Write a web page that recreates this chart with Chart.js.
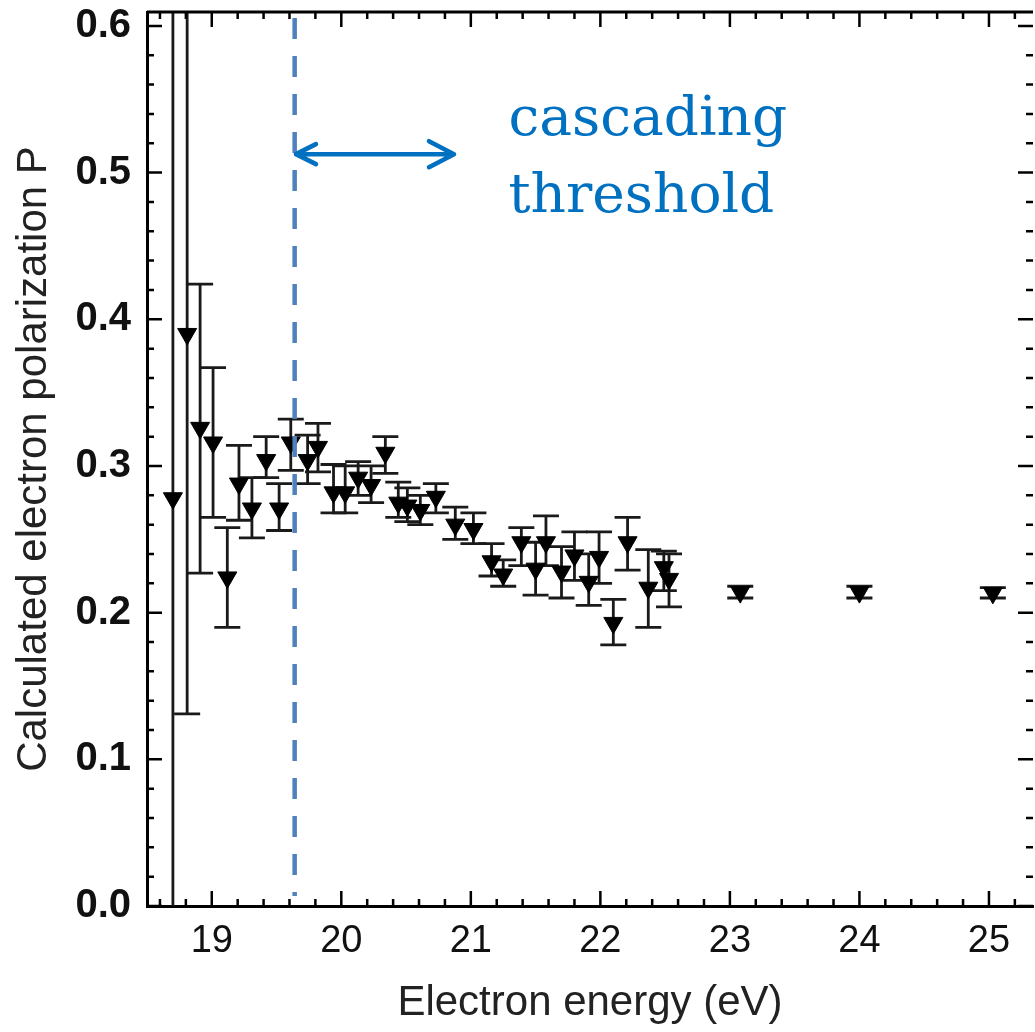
<!DOCTYPE html>
<html>
<head>
<meta charset="utf-8">
<script src="https://cdn.jsdelivr.net/npm/chart.js@4/dist/chart.umd.min.js"></script>
<style>
html,body{margin:0;padding:0;background:#fff;}
canvas{display:block;}
</style>
</head>
<body>
<canvas id="c" width="1035" height="1032"></canvas>
<script>
// ---- data ----
const energy = [18.70, 18.81, 18.91, 19.01, 19.12, 19.21, 19.31, 19.42, 19.52, 19.61,
                19.74, 19.82, 19.94, 20.03, 20.13, 20.23, 20.34, 20.44, 20.51, 20.61,
                20.73, 20.88, 21.02, 21.16, 21.25, 21.39, 21.50, 21.58, 21.70, 21.80,
                21.91, 21.99, 22.10, 22.21, 22.37, 22.49, 22.53, 23.08, 24.00, 25.03];
const polarization = [0.278, 0.390, 0.326, 0.316, 0.224, 0.288, 0.271, 0.304, 0.271, 0.316,
                      0.304, 0.313, 0.282, 0.282, 0.292, 0.287, 0.309, 0.275, 0.273, 0.270,
                      0.279, 0.260, 0.257, 0.235, 0.226, 0.248, 0.230, 0.248, 0.228, 0.239,
                      0.221, 0.238, 0.193, 0.248, 0.217, 0.231, 0.223, 0.214, 0.214, 0.2135];
const errLow  = [-0.10, 0.131, 0.227, 0.265, 0.190, 0.263, 0.251, 0.292, 0.256, 0.297,
                 0.288, 0.296, 0.268, 0.268, 0.280, 0.275, 0.295, 0.265, 0.262, 0.260,
                 0.268, 0.250, 0.247, 0.225, 0.218, 0.232, 0.212, 0.232, 0.210, 0.222,
                 0.205, 0.220, 0.178, 0.229, 0.190, 0.215, 0.204, 0.210, 0.210, 0.210];
const errHigh = [0.70, 0.70, 0.424, 0.367, 0.258, 0.314, 0.292, 0.320, 0.288, 0.332,
                 0.321, 0.329, 0.301, 0.300, 0.303, 0.300, 0.320, 0.289, 0.285, 0.280,
                 0.288, 0.272, 0.268, 0.247, 0.236, 0.258, 0.248, 0.266, 0.245, 0.255,
                 0.240, 0.255, 0.209, 0.265, 0.243, 0.242, 0.240, 0.218, 0.218, 0.217];
const xTickValues = [19, 20, 21, 22, 23, 24, 25];
const yTickValues = [0.0, 0.1, 0.2, 0.3, 0.4, 0.5, 0.6];

// annotation (in data units)
const thresholdEnergy = 19.64;
const arrowStart = 19.65, arrowEnd = 20.87, arrowLevel = 0.5126;
const noteLines = ['cascading', 'threshold'];
const noteEnergy = 21.29;
const noteLevels = [0.5256, 0.4731];

const points = energy.map((e, i) => ({x: e, y: polarization[i]}));

const overlay = {
  id: 'overlay',
  beforeDatasetsDraw(chart) {
    const {ctx, chartArea: a, scales: {x, y}} = chart;
    ctx.save();
    ctx.beginPath();
    ctx.rect(a.left, a.top, a.right - a.left, a.bottom - a.top);
    ctx.clip();
    ctx.strokeStyle = '#1a1a1a';
    ctx.lineWidth = 2.8;
    for (let i = 0; i < energy.length; i++) {
      const px = x.getPixelForValue(energy[i]);
      const lo = y.getPixelForValue(errLow[i]);
      const hi = y.getPixelForValue(errHigh[i]);
      ctx.beginPath();
      ctx.moveTo(px, lo); ctx.lineTo(px, hi);
      ctx.moveTo(px - 13, lo); ctx.lineTo(px + 13, lo);
      ctx.moveTo(px - 13, hi); ctx.lineTo(px + 13, hi);
      ctx.stroke();
    }
    ctx.restore();
  },
  afterDraw(chart) {
    const {ctx, chartArea: a, scales: {x, y}} = chart;
    ctx.save();
    // top frame line
    ctx.strokeStyle = '#000';
    ctx.lineWidth = 3;
    ctx.beginPath();
    ctx.moveTo(a.left, a.top); ctx.lineTo(a.right, a.top);
    ctx.stroke();
    // inward ticks
    ctx.lineWidth = 2.5;
    ctx.beginPath();
    for (let k = 93; k <= 126; k++) {
      const px = x.getPixelForValue(k / 5);
      if (px < a.left || px > a.right) continue;
      const len = (k % 5 === 0) ? 15 : 7;
      ctx.moveTo(px, a.bottom); ctx.lineTo(px, a.bottom - len);
      ctx.moveTo(px, a.top); ctx.lineTo(px, a.top + len);
    }
    for (let k = 0; k <= 30; k++) {
      const py = y.getPixelForValue(k / 50);
      const len = (k % 5 === 0) ? 15 : 7;
      ctx.moveTo(a.left, py); ctx.lineTo(a.left + len, py);
      ctx.moveTo(a.right, py); ctx.lineTo(a.right - len, py);
    }
    ctx.stroke();

    // dashed threshold line
    const tx = x.getPixelForValue(thresholdEnergy);
    ctx.strokeStyle = '#4F81BD';
    ctx.lineWidth = 4.5;
    ctx.setLineDash([21, 17]);
    ctx.beginPath();
    ctx.moveTo(tx, a.top + 6);
    ctx.lineTo(tx, a.bottom - 10);
    ctx.stroke();
    ctx.setLineDash([]);

    // double arrow
    const ax1 = x.getPixelForValue(arrowStart);
    const ax2 = x.getPixelForValue(arrowEnd);
    const ay = y.getPixelForValue(arrowLevel);
    ctx.strokeStyle = '#0070C0';
    ctx.lineWidth = 4.5;
    ctx.lineCap = 'round';
    ctx.lineJoin = 'round';
    ctx.beginPath();
    ctx.moveTo(ax1, ay); ctx.lineTo(ax2, ay);
    ctx.moveTo(ax1 + 20, ay - 10); ctx.lineTo(ax1, ay); ctx.lineTo(ax1 + 20, ay + 10);
    ctx.moveTo(ax2 - 25, ay - 13); ctx.lineTo(ax2, ay); ctx.lineTo(ax2 - 25, ay + 13);
    ctx.stroke();

    // note text
    ctx.fillStyle = '#0070C0';
    ctx.font = '55px "DejaVu Serif"';
    ctx.textAlign = 'left';
    ctx.textBaseline = 'alphabetic';
    const nx = x.getPixelForValue(noteEnergy);
    noteLines.forEach((t, i) => ctx.fillText(t, nx, y.getPixelForValue(noteLevels[i])));
    ctx.restore();
  }
};

new Chart(document.getElementById('c'), {
  type: 'scatter',
  data: {
    datasets: [{
      data: points,
      pointStyle: 'triangle',
      rotation: 180,
      pointRadius: 11,
      pointHoverRadius: 11,
      backgroundColor: '#000',
      borderColor: '#000',
      borderWidth: 1
    }]
  },
  options: {
    responsive: false,
    animation: false,
    devicePixelRatio: 1,
    layout: {autoPadding: false, padding: {top: 12, right: 2, left: 0, bottom: 0}},
    plugins: {legend: {display: false}, tooltip: {enabled: false}},
    scales: {
      x: {
        type: 'linear',
        min: 18.5,
        max: 25.34,
        afterBuildTicks: s => { s.ticks = xTickValues.map(v => ({value: v})); },
        afterFit: s => { s.height = 126; s.paddingLeft = 0; s.paddingRight = 0; s.paddingTop = 0; s.paddingBottom = 0; },
        grid: {display: false, drawTicks: false},
        border: {display: true, color: '#000', width: 3},
        ticks: {
          padding: 13,
          color: '#111',
          font: {family: '"Liberation Sans", Arial, sans-serif', size: 38},
          callback: v => String(v)
        },
        title: {
          display: true,
          text: 'Electron energy (eV)',
          color: '#222',
          font: {family: '"Liberation Sans", Arial, sans-serif', size: 42},
          padding: {top: 0, bottom: 3}
        }
      },
      y: {
        type: 'linear',
        min: 0,
        max: 0.6095,
        afterBuildTicks: s => { s.ticks = yTickValues.map(v => ({value: v})); },
        afterFit: s => { s.width = 147; s.paddingLeft = 0; s.paddingRight = 0; s.paddingTop = 0; s.paddingBottom = 0; },
        grid: {display: false, drawTicks: false},
        border: {display: true, color: '#000', width: 3},
        ticks: {
          padding: 16,
          color: '#111',
          font: {family: '"Liberation Sans", Arial, sans-serif', size: 40, weight: 'bold'},
          callback: v => Number(v).toFixed(1)
        },
        title: {
          display: true,
          text: 'Calculated electron polarization P',
          color: '#222',
          font: {family: '"Liberation Sans", Arial, sans-serif', size: 42},
          padding: {top: 9, bottom: 0}
        }
      }
    }
  },
  plugins: [overlay]
});
</script>
</body>
</html>
